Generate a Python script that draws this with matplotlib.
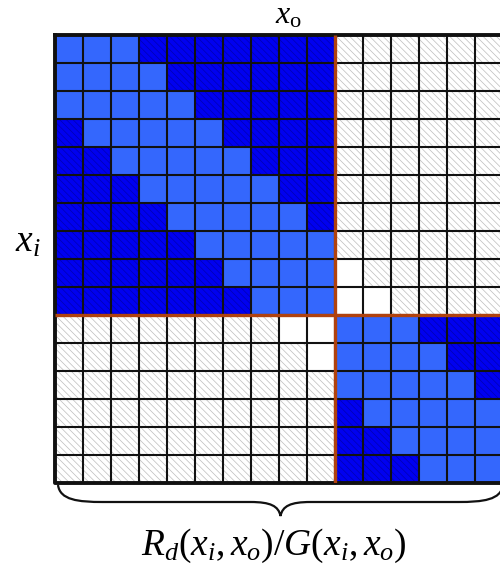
import matplotlib
matplotlib.use("Agg")
import matplotlib.pyplot as plt
from matplotlib.patches import Rectangle, PathPatch
from matplotlib.path import Path

# Cell states of the 16x16 matrix (rows = x_i, columns = x_o)
# L: in-block, near diagonal   D: in-block, far from diagonal
# W: cross-block, near diagonal H: cross-block, far from diagonal
cell_rows = [
    "LLLDDDDDDDHHHHHH",
    "LLLLDDDDDDHHHHHH",
    "LLLLLDDDDDHHHHHH",
    "DLLLLLDDDDHHHHHH",
    "DDLLLLLDDDHHHHHH",
    "DDDLLLLLDDHHHHHH",
    "DDDDLLLLLDHHHHHH",
    "DDDDDLLLLLHHHHHH",
    "DDDDDDLLLLWHHHHH",
    "DDDDDDDLLLWWHHHH",
    "HHHHHHHHWWLLLDDD",
    "HHHHHHHHHWLLLLDD",
    "HHHHHHHHHHLLLLLD",
    "HHHHHHHHHHDLLLLL",
    "HHHHHHHHHHDDLLLL",
    "HHHHHHHHHHDDDLLL",
]
block_sizes = [10, 6]

top_label = r"$x_\mathrm{o}$"
left_label = r"$x_i$"
bottom_label = r"$R_d(x_i,x_o)/G(x_i,x_o)$"

plt.rcParams["mathtext.fontset"] = "custom"
plt.rcParams["mathtext.rm"] = "Liberation Serif"
plt.rcParams["mathtext.it"] = "Liberation Serif:italic"
plt.rcParams["hatch.linewidth"] = 0.5

styles = {
    "L": dict(face="#3467fd", hatch=None, hcol=None),
    "D": dict(face="#0000f0", hatch="\\\\\\\\\\", hcol="#0000b0"),
    "W": dict(face="white", hatch=None, hcol=None),
    "H": dict(face="white", hatch="\\\\\\\\\\", hcol="#bdbdbd"),
}

W, H = 500, 574
fig = plt.figure(figsize=(W / 100, H / 100), dpi=100)
n = len(cell_rows)
cell = 28.0
left_px, top_px = 55, 35
ax = fig.add_axes([left_px / W, 1 - (top_px + n * cell) / H, n * cell / W, n * cell / H])
ax.set_xlim(0, n)
ax.set_ylim(n, 0)
ax.axis("off")

for i, row in enumerate(cell_rows):
    for j, code in enumerate(row):
        st = styles[code]
        ax.add_patch(Rectangle((j, i), 1, 1, facecolor=st["face"], edgecolor="none", lw=0))
        if st["hatch"]:
            ax.add_patch(Rectangle((j, i), 1, 1, facecolor="none", edgecolor=st["hcol"],
                                   hatch=st["hatch"], lw=0))

# cell borders
for k in range(1, n):
    ax.plot([k, k], [0, n], color="#111111", lw=1.5, solid_capstyle="butt", zorder=3)
    ax.plot([0, n], [k, k], color="#111111", lw=1.5, solid_capstyle="butt", zorder=3)

# outer frame
ax.plot([0, 0, n, n, 0], [0, n, n, 0, 0], color="#111111", lw=2.8, zorder=4, clip_on=False)

# block boundaries
b = block_sizes[0]
ax.plot([b, b], [0, n], color="#b0420e", lw=2.4, zorder=5, solid_capstyle="butt")
ax.plot([0, n], [b, b], color="#b0420e", lw=2.4, zorder=5, solid_capstyle="butt")

# labels
fig.text(288 / W, 1 - 23 / H, top_label, fontsize=23, ha="center", va="baseline")
fig.text(28 / W, 1 - 242 / H, left_label, fontsize=27, ha="center", va="center")
fig.text(274 / W, 1 - 546 / H, bottom_label, fontsize=27, ha="center", va="center")

# curly brace under the matrix
x0, x1 = 58, 503
xm = (x0 + x1) / 2
y_end, y_mid, y_tip = 485, 502, 516
def fx(x):
    return x / W
def fy(y):
    return 1 - y / H
verts = [
    (x0, y_end), (x0 + 2, y_mid - 2), (x0 + 20, y_mid), (x0 + 45, y_mid),
    (xm - 30, y_mid),
    (xm - 10, y_mid), (xm - 2, y_mid + 4), (xm, y_tip),
    (xm + 2, y_mid + 4), (xm + 10, y_mid), (xm + 30, y_mid),
    (x1 - 45, y_mid),
    (x1 - 20, y_mid), (x1 - 2, y_mid - 2), (x1, y_end),
]
codes = [Path.MOVETO, Path.CURVE4, Path.CURVE4, Path.CURVE4,
         Path.LINETO,
         Path.CURVE4, Path.CURVE4, Path.CURVE4,
         Path.CURVE4, Path.CURVE4, Path.CURVE4,
         Path.LINETO,
         Path.CURVE4, Path.CURVE4, Path.CURVE4]
path = Path([(fx(x), fy(y)) for x, y in verts], codes)
fig.add_artist(PathPatch(path, facecolor="none", edgecolor="#111111", lw=1.6,
                         transform=fig.transFigure))

fig.savefig("out.png", dpi=100)
